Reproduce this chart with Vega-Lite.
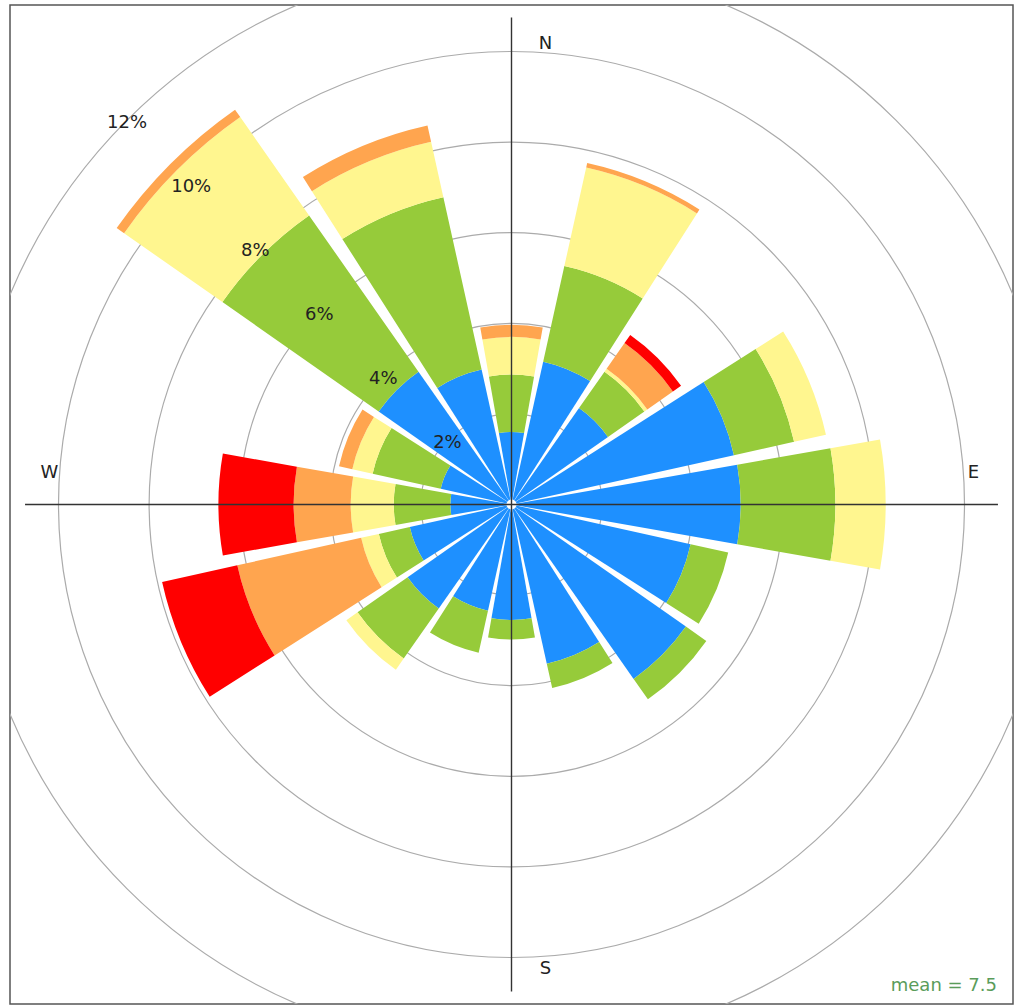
{
  "$schema": "https://vega.github.io/schema/vega-lite/v6.json",
  "width": 1020,
  "height": 1008,
  "autosize": {"type": "fit", "contains": "padding"},
  "padding": {"left": 10, "right": 7, "top": 5, "bottom": 4},
  "background": "white",
  "config": {"view": {"stroke": "#555", "strokeWidth": 1.5}, "font": "DejaVu Sans"},
  "datasets": {
    "rose": [
      {"dir": "N", "ws": "0 to 5", "k": 1, "freq": 1.6},
      {"dir": "N", "ws": "5 to 10", "k": 2, "freq": 1.27},
      {"dir": "N", "ws": "10 to 15", "k": 3, "freq": 0.83},
      {"dir": "N", "ws": "15 to 20", "k": 4, "freq": 0.27},
      {"dir": "NNE", "ws": "0 to 5", "k": 1, "freq": 3.23},
      {"dir": "NNE", "ws": "5 to 10", "k": 2, "freq": 2.16},
      {"dir": "NNE", "ws": "10 to 15", "k": 3, "freq": 2.23},
      {"dir": "NNE", "ws": "15 to 20", "k": 4, "freq": 0.1},
      {"dir": "NE", "ws": "0 to 5", "k": 1, "freq": 2.6},
      {"dir": "NE", "ws": "5 to 10", "k": 2, "freq": 0.98},
      {"dir": "NE", "ws": "10 to 15", "k": 3, "freq": 0.08},
      {"dir": "NE", "ws": "15 to 20", "k": 4, "freq": 0.69},
      {"dir": "NE", "ws": "20 or more", "k": 5, "freq": 0.22},
      {"dir": "ENE", "ws": "0 to 5", "k": 1, "freq": 5.03},
      {"dir": "ENE", "ws": "5 to 10", "k": 2, "freq": 1.36},
      {"dir": "ENE", "ws": "10 to 15", "k": 3, "freq": 0.72},
      {"dir": "E", "ws": "0 to 5", "k": 1, "freq": 5.06},
      {"dir": "E", "ws": "5 to 10", "k": 2, "freq": 2.09},
      {"dir": "E", "ws": "10 to 15", "k": 3, "freq": 1.11},
      {"dir": "ESE", "ws": "0 to 5", "k": 1, "freq": 4.05},
      {"dir": "ESE", "ws": "5 to 10", "k": 2, "freq": 0.85},
      {"dir": "SE", "ws": "0 to 5", "k": 1, "freq": 4.7},
      {"dir": "SE", "ws": "5 to 10", "k": 2, "freq": 0.55},
      {"dir": "SSE", "ws": "0 to 5", "k": 1, "freq": 3.6},
      {"dir": "SSE", "ws": "5 to 10", "k": 2, "freq": 0.55},
      {"dir": "S", "ws": "0 to 5", "k": 1, "freq": 2.55},
      {"dir": "S", "ws": "5 to 10", "k": 2, "freq": 0.43},
      {"dir": "SSW", "ws": "0 to 5", "k": 1, "freq": 2.4},
      {"dir": "SSW", "ws": "5 to 10", "k": 2, "freq": 0.95},
      {"dir": "SW", "ws": "0 to 5", "k": 1, "freq": 2.8},
      {"dir": "SW", "ws": "5 to 10", "k": 2, "freq": 1.35},
      {"dir": "SW", "ws": "10 to 15", "k": 3, "freq": 0.3},
      {"dir": "WSW", "ws": "0 to 5", "k": 1, "freq": 2.3},
      {"dir": "WSW", "ws": "5 to 10", "k": 2, "freq": 0.7},
      {"dir": "WSW", "ws": "10 to 15", "k": 3, "freq": 0.4},
      {"dir": "WSW", "ws": "15 to 20", "k": 4, "freq": 2.8},
      {"dir": "WSW", "ws": "20 or more", "k": 5, "freq": 1.7},
      {"dir": "W", "ws": "0 to 5", "k": 1, "freq": 1.35},
      {"dir": "W", "ws": "5 to 10", "k": 2, "freq": 1.25},
      {"dir": "W", "ws": "10 to 15", "k": 3, "freq": 0.95},
      {"dir": "W", "ws": "15 to 20", "k": 4, "freq": 1.26},
      {"dir": "W", "ws": "20 or more", "k": 5, "freq": 1.66},
      {"dir": "WNW", "ws": "0 to 5", "k": 1, "freq": 1.6},
      {"dir": "WNW", "ws": "5 to 10", "k": 2, "freq": 1.54},
      {"dir": "WNW", "ws": "10 to 15", "k": 3, "freq": 0.46},
      {"dir": "WNW", "ws": "15 to 20", "k": 4, "freq": 0.3},
      {"dir": "NW", "ws": "0 to 5", "k": 1, "freq": 3.58},
      {"dir": "NW", "ws": "5 to 10", "k": 2, "freq": 4.21},
      {"dir": "NW", "ws": "10 to 15", "k": 3, "freq": 2.65},
      {"dir": "NW", "ws": "15 to 20", "k": 4, "freq": 0.2},
      {"dir": "NNW", "ws": "0 to 5", "k": 1, "freq": 3.05},
      {"dir": "NNW", "ws": "5 to 10", "k": 2, "freq": 3.9},
      {"dir": "NNW", "ws": "10 to 15", "k": 3, "freq": 1.25},
      {"dir": "NNW", "ws": "15 to 20", "k": 4, "freq": 0.37}
    ],
    "rings": [
      {"level": 2, "label": "2%"},
      {"level": 4, "label": "4%"},
      {"level": 6, "label": "6%"},
      {"level": 8, "label": "8%"},
      {"level": 10, "label": "10%"},
      {"level": 12, "label": "12%"}
    ],
    "compassNS": [{"lab": "N"}, {"lab": "S"}],
    "compassEW": [{"lab": "E"}, {"lab": "W"}]
  },
  "resolve": {"scale": {"theta": "shared", "radius": "shared", "x": "shared", "y": "shared"}},
  "layer": [
    {
      "data": {"name": "rings"},
      "mark": {"type": "arc", "filled": false, "stroke": "#ababab", "strokeWidth": 1.2, "theta": 0, "theta2": 6.2832, "clip": true},
      "encoding": {
        "radius": {"field": "level", "type": "quantitative", "scale": {"type": "linear", "domain": [0, 12], "range": [0, 543.6], "zero": true, "nice": false}},
        "radius2": {"datum": 0}
      }
    },
    {
      "data": {"name": "rose"},
      "mark": {"type": "arc", "stroke": null},
      "encoding": {
        "theta": {
          "field": "dir", "type": "nominal",
          "sort": ["N", "NNE", "NE", "ENE", "E", "ESE", "SE", "SSE", "S", "SSW", "SW", "WSW", "W", "WNW", "NW", "NNW"],
          "scale": {
            "type": "band",
            "domain": ["N", "NNE", "NE", "ENE", "E", "ESE", "SE", "SSE", "S", "SSW", "SW", "WSW", "W", "WNW", "NW", "NNW"],
            "range": [-0.19635, 6.08684],
            "paddingInner": 0.1111,
            "paddingOuter": 0.0556
          }
        },
        "radius": {"field": "freq", "type": "quantitative", "stack": "zero"},
        "order": {"field": "k", "type": "quantitative", "sort": "ascending"},
        "color": {
          "field": "ws", "type": "ordinal",
          "scale": {"domain": ["0 to 5", "5 to 10", "10 to 15", "15 to 20", "20 or more"], "range": ["#1E90FF", "#96CB3A", "#FFF68F", "#FFA54F", "#FF0000"]},
          "legend": null
        }
      }
    },
    {
      "data": {"values": [{"c": 1}]},
      "mark": {"type": "arc", "fill": "white", "theta": 0, "theta2": 6.2832, "radius": 5},
      "encoding": {}
    },
    {
      "data": {"values": [{"c": 1}]},
      "mark": {"type": "rule", "stroke": "#333", "strokeWidth": 1.4},
      "encoding": {
        "x": {"datum": -0.97, "type": "quantitative", "scale": {"domain": [-1, 1], "nice": false, "zero": false}, "axis": null},
        "x2": {"datum": 0.97},
        "y": {"datum": 0, "type": "quantitative", "scale": {"domain": [-1, 1], "nice": false, "zero": false}, "axis": null}
      }
    },
    {
      "data": {"values": [{"c": 1}]},
      "mark": {"type": "rule", "stroke": "#333", "strokeWidth": 1.4},
      "encoding": {
        "x": {"datum": 0, "type": "quantitative"},
        "y": {"datum": -0.975, "type": "quantitative"},
        "y2": {"datum": 0.975}
      }
    },
    {
      "data": {"name": "rings"},
      "mark": {"type": "text", "fontSize": 18, "font": "DejaVu Sans", "color": "#222", "align": "center", "baseline": "middle", "dy": 3},
      "encoding": {
        "radius": {"field": "level", "type": "quantitative"},
        "theta": {"datum": "NW"},
        "text": {"field": "label"}
      }
    },
    {
      "data": {"name": "compassNS"},
      "mark": {"type": "text", "fontSize": 18, "font": "DejaVu Sans", "color": "#222", "align": "center", "baseline": "middle", "dx": 34, "dy": 2},
      "encoding": {
        "radius": {"datum": 10.22, "type": "quantitative"},
        "theta": {"field": "lab"},
        "text": {"field": "lab"}
      }
    },
    {
      "data": {"name": "compassEW"},
      "mark": {"type": "text", "fontSize": 18, "font": "DejaVu Sans", "color": "#222", "align": "center", "baseline": "middle", "dy": -32},
      "encoding": {
        "radius": {"datum": 10.2, "type": "quantitative"},
        "theta": {"field": "lab"},
        "text": {"field": "lab"}
      }
    },
    {
      "data": {"values": [{"note": "mean = 7.5"}]},
      "mark": {"type": "text", "fontSize": 18, "font": "DejaVu Sans", "color": "#5a9c5a", "align": "right", "baseline": "alphabetic"},
      "encoding": {
        "x": {"datum": 0.968, "type": "quantitative"},
        "y": {"datum": -0.974, "type": "quantitative"},
        "text": {"field": "note"}
      }
    }
  ]
}
